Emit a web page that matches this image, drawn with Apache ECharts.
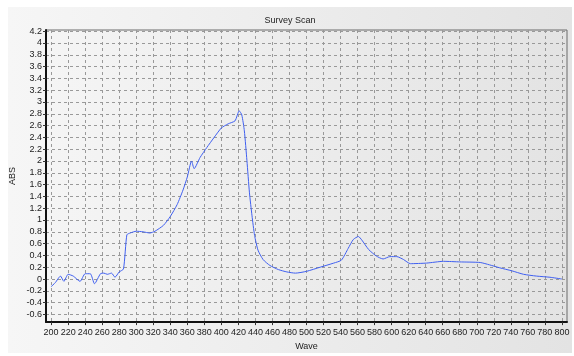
<!DOCTYPE html>
<html>
<head>
<meta charset="utf-8">
<script src="https://cdn.jsdelivr.net/npm/echarts@6/dist/echarts.min.js"></script>
<style>
  html, body { margin: 0; padding: 0; background: #fff; }
  #panel {
    position: absolute; left: 8px; top: 7px; width: 564px; height: 346px;
    background: linear-gradient(to right, #f6f6f6, #e3e3e3);
  }
  #chart { position: absolute; left: 0; top: 0; width: 574px; height: 356px; }
</style>
</head>
<body>
<div id="panel"></div>
<div id="chart"></div>
<script>
// survey scan
var waves = [200,205,211,215,220,226,234,240,246,251,258,262,266,271,275,280,285,289,293,300,
  308,316,322,332,340,348,355,360,365,368,375,383,391,400,408,416,421,424,427,430,
  433,436,439,443,449,457,467,477,487,500,516,532,541,549,555,561,565,573,582,590,
  598,606,614,622,641,661,680,704,715,727,741,755,770,786,800]
var absValues = [-0.13,-0.06,0.05,-0.04,0.08,0.05,-0.04,0.09,0.09,-0.08,0.09,0.10,0.08,0.10,0.03,0.12,0.17,0.75,0.78,0.81,
  0.80,0.78,0.81,0.91,1.06,1.26,1.51,1.73,2.00,1.87,2.06,2.23,2.39,2.56,2.63,2.68,2.85,2.78,2.51,2.01,
  1.46,1.07,0.74,0.49,0.33,0.23,0.16,0.12,0.10,0.13,0.20,0.27,0.32,0.52,0.67,0.72,0.66,0.50,0.39,0.34,
  0.38,0.38,0.33,0.26,0.27,0.30,0.29,0.28,0.24,0.19,0.14,0.08,0.05,0.03,0.00]

var xTicks = [200,220,240,260,280,300,320,340,360,380,400,420,440,460,480,500,520,540,560,580,
  600,620,640,660,680,700,720,740,760,780,800]
var yTicks = [-0.6,-0.4,-0.2,0,0.2,0.4,0.6,0.8,1,1.2,1.4,1.6,1.8,2,2.2,2.4,2.6,2.8,3,3.2,3.4,3.6,3.8,4,4.2]

var seriesData = []
for (var i = 0; i < waves.length; i++) {
  seriesData.push([waves[i], absValues[i]])
}

var font = 'Liberation Sans'
var chart = echarts.init(document.getElementById('chart'))
var option = {
  backgroundColor: 'transparent',
  animation: false,
  title: {
    text: 'Survey Scan',
    left: 285,
    top: 11,
    textAlign: 'center',
    textStyle: { fontFamily: font, fontSize: 9, fontWeight: 'normal', color: '#222' }
  },
  grid: {
    left: 46,
    right: 7,
    top: 30,
    bottom: 27,
    show: true,
    borderColor: '#6a6a6a',
    borderWidth: 1,
    backgroundColor: 'transparent'
  },
  xAxis: {
    type: 'value',
    min: 194,
    max: 806,
    name: 'Wave',
    nameLocation: 'middle',
    nameGap: 19,
    nameTextStyle: { fontFamily: font, fontSize: 9, color: '#222' },
    axisLine: { show: true, onZero: false, lineStyle: { color: '#111', width: 2 } },
    axisTick: { show: true, customValues: xTicks, length: 3, lineStyle: { color: '#333' } },
    axisLabel: {
      customValues: xTicks,
      fontFamily: font, fontSize: 9, color: '#222', margin: 6
    },
    splitLine: {
      show: true,
      lineStyle: { type: [3, 3], color: '#999', width: 1 }
    }
  },
  yAxis: {
    type: 'value',
    min: -0.73,
    max: 4.22,
    name: 'ABS',
    nameLocation: 'middle',
    nameGap: 29,
    nameMoveOverlap: false,
    nameRotate: 90,
    nameTextStyle: { fontFamily: font, fontSize: 9, color: '#222' },
    axisLine: { show: true, onZero: false, lineStyle: { color: '#111', width: 2 } },
    axisTick: { show: true, customValues: yTicks, length: 3, lineStyle: { color: '#333' } },
    axisLabel: {
      customValues: yTicks,
      fontFamily: font, fontSize: 9, color: '#222', margin: 4
    },
    splitLine: {
      show: true,
      lineStyle: { type: [3, 3], color: '#999', width: 1 }
    }
  },
  series: [{
    name: 'ABS',
    type: 'line',
    data: seriesData,
    showSymbol: false,
    smooth: 0.2,
    lineStyle: { color: '#3f5ff0', width: 1 }
  }]
}
chart.setOption(option)
</script>
</body>
</html>
